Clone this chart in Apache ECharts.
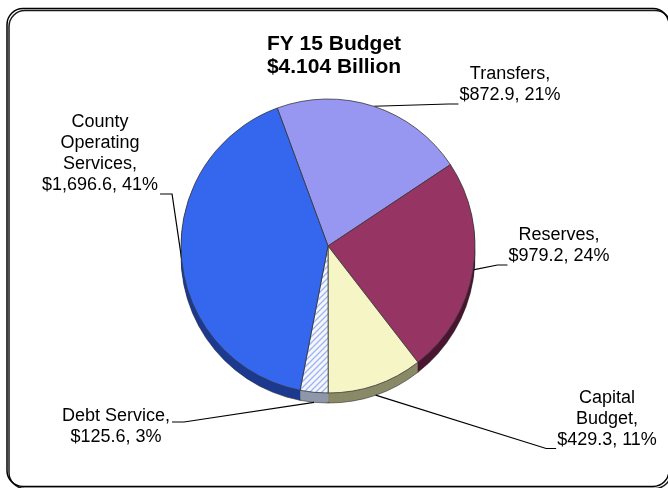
<!DOCTYPE html>
<html>
<head>
<meta charset="utf-8">
<script src="https://cdn.jsdelivr.net/npm/echarts@6/dist/echarts.min.js"></script>
<style>
  html, body { margin: 0; padding: 0; background: #ffffff; }
  #chart { width: 668px; height: 488px; }
</style>
</head>
<body>
<div id="chart"></div>
<script>
// FY 15 budget breakdown, millions of dollars
const categories = ['Transfers', 'Reserves', 'Capital\nBudget', 'Debt Service', 'County\nOperating\nServices'];
const amounts = [872.9, 979.2, 429.3, 125.6, 1696.6];
const percents = [21, 24, 11, 3, 41];
const titleLines = ['FY 15 Budget', '$4.104 Billion'];

// Slice appearance
const faceColors = ['#9797f2', '#963563', '#f5f5c6', 'pattern', '#3566ee'];
const sideColors = ['#5d5da0', '#4a1530', '#8a8a68', '#8f98aa', '#1c3a90'];

// Label block centres, which side the leader line meets, and a nudge of its pie end
const labelSpots = [
  { x: 510, y: 85, side: 'left', line: 'last', drop: 0 },
  { x: 559, y: 246, side: 'left', line: 'last', drop: 0 },
  { x: 607, y: 419, side: 'left', line: 'last', drop: 10 },
  { x: 116, y: 427, side: 'right', line: 'first', drop: 10 },
  { x: 100, y: 154, side: 'right', line: 'last', drop: 0 }
];

const PIE_X = 328, PIE_Y = 246, PIE_R = 147, DEPTH = 10, LINE_H = 21;
const FONT = '"Liberation Sans", Arial, Helvetica, sans-serif';

// Light blue hatch used for the debt service slice
function makeHatch(color) {
  const c = document.createElement('canvas');
  c.width = 6; c.height = 6;
  const g = c.getContext('2d');
  g.fillStyle = '#f4f7ff';
  g.fillRect(0, 0, 6, 6);
  g.strokeStyle = color;
  g.lineWidth = 1.3;
  g.beginPath();
  g.moveTo(-1, 7); g.lineTo(7, -1);
  g.moveTo(-1, 1); g.lineTo(1, -1);
  g.moveTo(5, 7); g.lineTo(7, 5);
  g.stroke();
  return c;
}
const hatch = { image: makeHatch('#9fb3ee'), repeat: 'repeat' };

function fmtAmount(v) {
  return '$' + v.toLocaleString('en-US', { minimumFractionDigits: 1, maximumFractionDigits: 1 });
}

const faceData = categories.map((name, i) => ({
  name: name,
  value: amounts[i],
  itemStyle: { color: faceColors[i] === 'pattern' ? hatch : faceColors[i] }
}));
const sideData = categories.map((name, i) => ({
  name: name,
  value: amounts[i],
  itemStyle: { color: sideColors[i] }
}));

const series = [];
// Extruded rim: a stack of darker pies under the top face
for (let k = DEPTH; k >= 1; k--) {
  series.push({
    type: 'pie',
    silent: true,
    z: 2 + (DEPTH - k) * 0.01,
    center: [PIE_X, PIE_Y + k],
    radius: PIE_R,
    startAngle: 110.2,
    clockwise: true,
    label: { show: false },
    labelLine: { show: false },
    itemStyle: k === DEPTH ? { borderColor: '#2a2a2a', borderWidth: 0.6 } : { borderWidth: 0 },
    data: sideData
  });
}

// Top face with the labels
series.push({
  type: 'pie',
  z: 3,
  center: [PIE_X, PIE_Y],
  radius: PIE_R,
  startAngle: 110.2,
  clockwise: true,
  avoidLabelOverlap: false,
  itemStyle: { borderColor: '#3a3a3a', borderWidth: 0.8 },
  label: {
    show: true,
    position: 'outside',
    fontFamily: FONT,
    fontSize: 18,
    lineHeight: LINE_H,
    color: '#000000',
    align: 'center',
    formatter: function (p) {
      const i = p.dataIndex;
      return categories[i] + ',\n' + fmtAmount(amounts[i]) + ', ' + percents[i] + '%';
    }
  },
  labelLine: {
    show: true,
    length: 10,
    length2: 10,
    smooth: false,
    lineStyle: { color: '#000000', width: 1.2 }
  },
  labelLayout: function (p) {
    const i = p.dataIndex;
    const spot = labelSpots[i];
    const w = p.labelRect.width, h = p.labelRect.height;
    const left = spot.x - w / 2, top = spot.y - h / 2;
    const yEnd = spot.line === 'last' ? top + h - 2 : top + LINE_H - 5;
    const xEnd = spot.side === 'left' ? left - 1 : left + w + 2;
    const xElbow = spot.side === 'left' ? xEnd - 10 : xEnd + 12;
    const anchor = p.labelLinePoints ? p.labelLinePoints[0].slice() : [PIE_X, PIE_Y];
    anchor[1] += spot.drop;
    return {
      x: spot.x,
      y: spot.y,
      align: 'center',
      verticalAlign: 'middle',
      labelLinePoints: [anchor, [xElbow, yEnd], [xEnd, yEnd]]
    };
  },
  data: faceData
});

const chart = echarts.init(document.getElementById('chart'), null, { renderer: 'canvas' });
chart.setOption({
  animation: false,
  backgroundColor: '#ffffff',
  title: {
    text: titleLines.join('\n'),
    left: 329,
    top: 28,
    textAlign: 'center',
    textStyle: {
      fontFamily: FONT,
      fontSize: 21,
      fontWeight: 'bold',
      lineHeight: 23,
      color: '#000000'
    }
  },
  graphic: [{
    type: 'rect',
    z: -10,
    silent: true,
    shape: { x: 7, y: 8.5, width: 662, height: 478, r: 16 },
    style: {
      fill: 'none',
      stroke: '#000000',
      lineWidth: 1.5,
      shadowColor: 'rgba(0,0,0,0.9)',
      shadowOffsetX: 2,
      shadowOffsetY: 2
    }
  }],
  series: series
});
</script>
</body>
</html>
